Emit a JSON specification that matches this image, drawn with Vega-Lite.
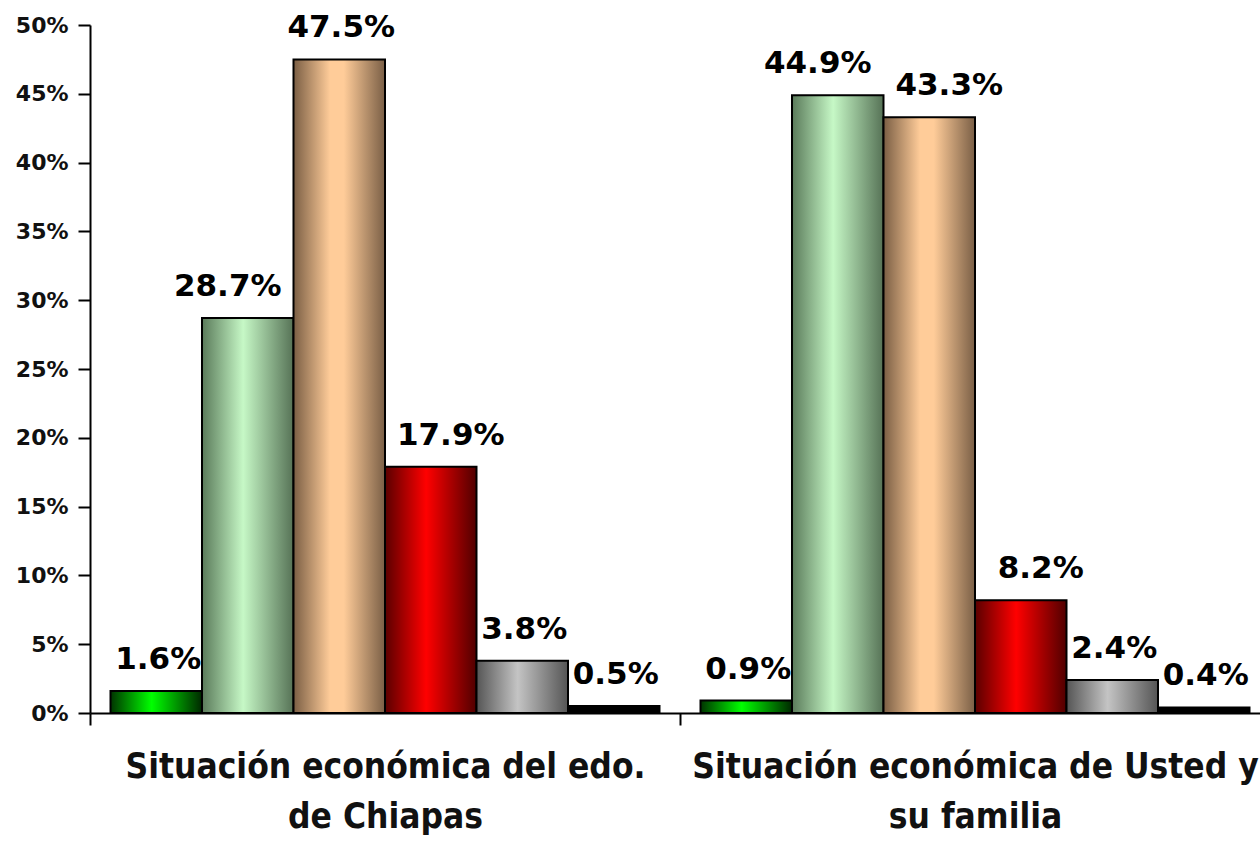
{
  "$schema": "https://vega.github.io/schema/vega-lite/v6.json",
  "autosize": "none",
  "width": 1170,
  "height": 688,
  "padding": {"left": 90, "top": 25, "right": 0, "bottom": 129},
  "background": "white",
  "config": {
    "view": {"stroke": null},
    "font": "DejaVu Sans",
    "axis": {"domainColor": "black", "domainWidth": 2, "tickColor": "black", "tickWidth": 2, "tickSize": 12, "labelColor": "#111", "labelFont": "DejaVu Sans", "labelFontWeight": "bold", "grid": false, "title": null}
  },
  "data": {
    "values": [
      {"grupo": "Situación económica del edo. de Chiapas", "categoria": "Mucho mejor", "valor": 0.016},
      {"grupo": "Situación económica del edo. de Chiapas", "categoria": "Mejor", "valor": 0.287},
      {"grupo": "Situación económica del edo. de Chiapas", "categoria": "Igual", "valor": 0.475},
      {"grupo": "Situación económica del edo. de Chiapas", "categoria": "Peor", "valor": 0.179},
      {"grupo": "Situación económica del edo. de Chiapas", "categoria": "Mucho peor", "valor": 0.038},
      {"grupo": "Situación económica del edo. de Chiapas", "categoria": "NS/NC", "valor": 0.005},
      {"grupo": "Situación económica de Usted y su familia", "categoria": "Mucho mejor", "valor": 0.009},
      {"grupo": "Situación económica de Usted y su familia", "categoria": "Mejor", "valor": 0.449},
      {"grupo": "Situación económica de Usted y su familia", "categoria": "Igual", "valor": 0.433},
      {"grupo": "Situación económica de Usted y su familia", "categoria": "Peor", "valor": 0.082},
      {"grupo": "Situación económica de Usted y su familia", "categoria": "Mucho peor", "valor": 0.024},
      {"grupo": "Situación económica de Usted y su familia", "categoria": "NS/NC", "valor": 0.004}
    ]
  },
  "encoding": {
    "x": {
      "field": "grupo", "type": "nominal", "sort": null,
      "scale": {"range": [0, 1180], "paddingInner": 0, "paddingOuter": 0},
      "axis": {"labelAngle": 0, "tickBand": "extent", "labelFontSize": 35, "labelFont": "DejaVu Sans Condensed", "labelPadding": 24, "labelLineHeight": 50, "labelLimit": 0,
        "labelExpr": "datum.value == 'Situación económica del edo. de Chiapas' ? ['Situación económica del edo.', 'de Chiapas'] : datum.value == 'Situación económica de Usted y su familia' ? ['Situación económica de Usted y', 'su familia'] : ''"}
    },
    "xOffset": {
      "field": "categoria", "type": "nominal",
      "scale": {"domain": ["Mucho mejor", "Mejor", "Igual", "Peor", "Mucho peor", "NS/NC"], "paddingInner": 0, "paddingOuter": 0.224}
    },
    "y": {
      "field": "valor", "type": "quantitative",
      "scale": {"domain": [0, 0.5], "nice": false},
      "axis": {"format": ".0%", "values": [0, 0.05, 0.1, 0.15, 0.2, 0.25, 0.3, 0.35, 0.4, 0.45, 0.5], "labelFontSize": 22, "labelPadding": 10}
    }
  },
  "layer": [
    {"transform": [{"filter": "datum.categoria == 'Mucho mejor'"}],
     "mark": {"type": "bar", "stroke": "black", "strokeWidth": 2, "color": {"gradient": "linear", "x1": 0, "y1": 0, "x2": 1, "y2": 0, "stops": [{"offset": 0, "color": "#003300"}, {"offset": 0.45, "color": "#00ff00"}, {"offset": 1, "color": "#002800"}]}}},
    {"transform": [{"filter": "datum.categoria == 'Mejor'"}],
     "mark": {"type": "bar", "stroke": "black", "strokeWidth": 2, "color": {"gradient": "linear", "x1": 0, "y1": 0, "x2": 1, "y2": 0, "stops": [{"offset": 0, "color": "#5a7a5a"}, {"offset": 0.45, "color": "#c6f8c6"}, {"offset": 1, "color": "#567256"}]}}},
    {"transform": [{"filter": "datum.categoria == 'Igual'"}],
     "mark": {"type": "bar", "stroke": "black", "strokeWidth": 2, "color": {"gradient": "linear", "x1": 0, "y1": 0, "x2": 1, "y2": 0, "stops": [{"offset": 0, "color": "#7a5e44"}, {"offset": 0.4, "color": "#ffcc99"}, {"offset": 0.55, "color": "#ffcc99"}, {"offset": 1, "color": "#7a5f46"}]}}},
    {"transform": [{"filter": "datum.categoria == 'Peor'"}],
     "mark": {"type": "bar", "stroke": "black", "strokeWidth": 2, "color": {"gradient": "linear", "x1": 0, "y1": 0, "x2": 1, "y2": 0, "stops": [{"offset": 0, "color": "#5a0000"}, {"offset": 0.45, "color": "#ff0000"}, {"offset": 1, "color": "#500000"}]}}},
    {"transform": [{"filter": "datum.categoria == 'Mucho peor'"}],
     "mark": {"type": "bar", "stroke": "black", "strokeWidth": 2, "color": {"gradient": "linear", "x1": 0, "y1": 0, "x2": 1, "y2": 0, "stops": [{"offset": 0, "color": "#555555"}, {"offset": 0.45, "color": "#c4c4c4"}, {"offset": 1, "color": "#555555"}]}}},
    {"transform": [{"filter": "datum.categoria == 'NS/NC'"}],
     "mark": {"type": "bar", "stroke": "black", "strokeWidth": 2, "color": "#000000"}},
    {"transform": [{"filter": "datum.categoria != 'Mejor' && datum.categoria != 'Peor' && !(datum.categoria == 'Igual' && datum.grupo == 'Situación económica de Usted y su familia')"}],
     "mark": {"type": "text", "fontSize": 31, "fontWeight": "bold", "font": "DejaVu Sans", "color": "black", "baseline": "alphabetic", "dy": -22, "dx": 2},
     "encoding": {"text": {"field": "valor", "type": "quantitative", "format": ".1%"}}},
    {"transform": [{"filter": "datum.categoria == 'Mejor'"}],
     "mark": {"type": "text", "fontSize": 31, "fontWeight": "bold", "font": "DejaVu Sans", "color": "black", "baseline": "alphabetic", "dy": -22, "dx": -20},
     "encoding": {"text": {"field": "valor", "type": "quantitative", "format": ".1%"}}},
    {"transform": [{"filter": "datum.categoria == 'Peor' || (datum.categoria == 'Igual' && datum.grupo == 'Situación económica de Usted y su familia')"}],
     "mark": {"type": "text", "fontSize": 31, "fontWeight": "bold", "font": "DejaVu Sans", "color": "black", "baseline": "alphabetic", "dy": -22, "dx": 20},
     "encoding": {"text": {"field": "valor", "type": "quantitative", "format": ".1%"}}}
  ]
}
